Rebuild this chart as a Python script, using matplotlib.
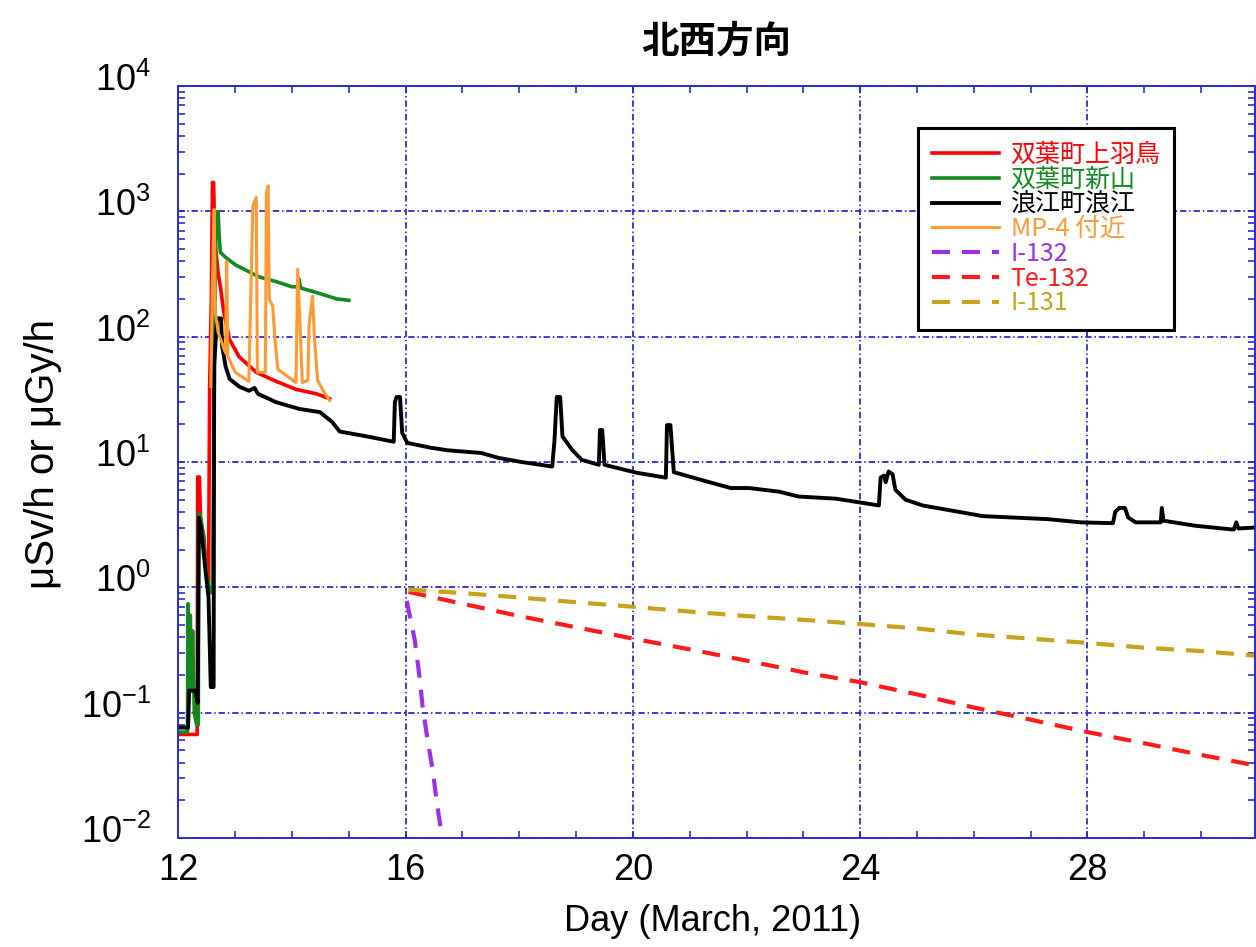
import numpy as np
import matplotlib.pyplot as plt
from matplotlib.ticker import MultipleLocator, FixedLocator, LogLocator, NullFormatter
from matplotlib.transforms import ScaledTranslation

plt.rcParams['font.family'] = ['Liberation Sans', 'DejaVu Sans']
plt.rcParams['mathtext.fontset'] = 'custom'
plt.rcParams['mathtext.rm'] = 'Liberation Sans'
plt.rcParams['mathtext.it'] = 'Liberation Sans:italic'

# measured dose rates (day of March 2011, uSv/h)
red_day = [12.0, 12.33, 12.34, 12.37, 12.39, 12.45, 12.5, 12.53, 12.55, 12.58, 12.6, 12.62,
           12.64, 12.7, 12.74, 12.8, 12.9, 13.07, 13.37, 13.72, 14.07, 14.43, 14.66]
red_val = [0.067, 0.067, 7.6, 7.6, 3.5, 2.5, 1.2, 0.9, 40, 200, 1700, 1700,
           600, 320, 250, 155, 95, 69, 52, 44, 38, 35, 32]

green_day = [12.0, 12.16, 12.17, 12.19, 12.21, 12.23, 12.25, 12.28, 12.32, 12.35, 12.36, 12.4,
             12.45, 12.5, 12.56, 12.6, 12.66, 12.7, 12.72, 12.74, 12.83, 13.0, 13.24, 13.42,
             13.72, 14.0, 14.1, 14.12, 14.15, 14.43, 14.79, 15.0]
green_val = [0.07, 0.07, 0.74, 0.3, 0.6, 0.15, 0.45, 0.1, 0.08, 0.08, 3.9, 3.5,
             2.2, 1.2, 0.9, 1.0, 990, 990, 600, 470, 430, 375, 330, 300,
             275, 250, 250, 290, 245, 225, 200, 195]

black_day = [12.0, 12.17, 12.19, 12.3, 12.34, 12.36, 12.4, 12.47, 12.53, 12.57, 12.62, 12.63,
             12.68, 12.75, 12.77, 12.83, 12.9, 13.07, 13.24, 13.34, 13.4, 13.72, 14.13, 14.49,
             14.7, 14.84, 15.32, 15.79, 15.81, 15.84, 15.9, 15.94, 16.03, 16.44, 16.74, 17.33,
             17.63, 18.04, 18.58, 18.62, 18.66, 18.72, 18.76, 18.93, 19.1, 19.4, 19.42, 19.46,
             19.5, 20.07, 20.58, 20.6, 20.66, 20.72, 21.2, 21.72, 22.04, 22.57, 22.92, 23.57,
             24.33, 24.36, 24.42, 24.45, 24.5, 24.57, 24.62, 24.8, 25.1, 26.16, 27.3, 27.88,
             28.45, 28.49, 28.56, 28.66, 28.72, 28.85, 29.29, 29.31, 29.34, 29.9, 30.53, 30.58,
             30.62, 30.66, 30.95]
black_val = [0.076, 0.076, 0.15, 0.15, 0.12, 3.6, 3.0, 1.45, 0.83, 0.16, 0.16, 60,
             140, 140, 84, 58, 46, 40, 37, 39, 35, 30, 26.5, 25,
             21, 17.5, 16, 14.5, 30, 33, 33, 17, 14.2, 13, 12.4, 11.8,
             10.8, 10, 9.2, 15, 33, 33, 16, 12.5, 10.4, 9.5, 18, 18,
             9.5, 8.2, 7.5, 19.7, 19.7, 8.3, 7.2, 6.2, 6.2, 5.8, 5.3, 5.1,
             4.5, 7.5, 7.8, 6.9, 8.4, 8.0, 6.0, 5.0, 4.5, 3.7, 3.5, 3.3,
             3.25, 4.0, 4.3, 4.3, 3.6, 3.3, 3.3, 4.3, 3.4, 3.1, 2.9, 2.9,
             3.3, 2.95, 3.0]

orange_day = [12.57, 12.6, 12.63, 12.65, 12.7, 12.83, 12.85, 12.87, 13.0, 13.24, 13.31, 13.37,
              13.39, 13.53, 13.55, 13.58, 13.6, 13.66, 13.7, 13.75, 14.07, 14.1, 14.14, 14.18,
              14.28, 14.3, 14.36, 14.4, 14.45, 14.55, 14.66]
orange_val = [40, 300, 1040, 155, 108, 74, 400, 70, 52, 44, 1100, 1290,
              52, 52, 1400, 1600, 200, 175, 95, 55, 43, 345, 130, 43,
              45, 125, 210, 90, 45, 37, 31]

# nuclide contributions
i132_day = [16.02, 16.16, 16.24, 16.3, 16.39, 16.48, 16.55, 16.64, 16.67]
i132_val = [0.78, 0.38, 0.2, 0.11, 0.059, 0.034, 0.019, 0.0102, 0.008]

te132_day = [16.05, 17, 18, 19, 20, 21, 22, 23, 24, 25, 26, 27, 28, 29, 30, 30.95]
te132_val = [0.92, 0.74, 0.59, 0.48, 0.39, 0.32, 0.26, 0.21, 0.175, 0.14, 0.11, 0.088,
             0.07, 0.057, 0.046, 0.038]

i131_day = [16.05, 17, 18, 19, 20, 21, 22, 23, 24, 25, 26, 27, 28, 29, 30, 30.95]
i131_val = [0.96, 0.90, 0.83, 0.76, 0.70, 0.64, 0.59, 0.55, 0.51, 0.47, 0.42, 0.39,
            0.36, 0.33, 0.31, 0.285]

y_decades = [1e-2, 1e-1, 1e0, 1e1, 1e2, 1e3, 1e4]

axis_blue = '#2a2ad8'
cjk = ['Noto Sans CJK JP', 'DejaVu Sans']

fig = plt.figure(figsize=(12.56, 9.47), dpi=100)
ax = fig.add_axes([178.4 / 1256, 1 - 838 / 947, (1255 - 178.4) / 1256, (838 - 86) / 947])

dash = (0, (4.3, 2.9))
series = [
    (red_day, red_val, '#ff0000', '-', 2.6, '双葉町上羽鳥'),
    (green_day, green_val, '#128a20', '-', 2.6, '双葉町新山'),
    (black_day, black_val, '#000000', '-', 2.8, '浪江町浪江'),
    (orange_day, orange_val, '#ff9933', '-', 2.2, 'MP-4 付近'),
    (i132_day, i132_val, '#9b30e8', dash, 3.0, 'I-132'),
    (te132_day, te132_val, '#ff1a1a', dash, 3.0, 'Te-132'),
    (i131_day, i131_val, '#c8a21a', dash, 3.0, 'I-131'),
]
for d, v, c, ls, lw, lab in series:
    ax.plot(d, v, color=c, linestyle=ls, linewidth=lw, label=lab)

ax.set_yscale('log')
ax.set_xlim(12, 30.95)
ax.set_ylim(1e-2, 1e4)
ax.xaxis.set_major_locator(MultipleLocator(4))
ax.xaxis.set_minor_locator(MultipleLocator(1))
ax.yaxis.set_major_locator(FixedLocator(y_decades))
ax.yaxis.set_minor_locator(LogLocator(base=10, subs=np.arange(2, 10), numticks=20))
ax.yaxis.set_minor_formatter(NullFormatter())

ax.grid(True, which='major', color=axis_blue, linestyle=(0, (3.5, 1.6, 0.8, 1.6)), linewidth=1.3)
for s in ax.spines.values():
    s.set_color(axis_blue)
    s.set_linewidth(1.4)
ax.tick_params(which='both', direction='in', top=True, right=True, color=axis_blue,
               width=1.2, length=5, labelsize=26)
ax.tick_params(axis='x', pad=11)
ax.tick_params(axis='y', pad=20)

# lift the power-of-ten labels so the base sits on the grid line
lift = ScaledTranslation(0, 0.09, fig.dpi_scale_trans)
for lbl in ax.get_yticklabels():
    lbl.set_transform(lbl.get_transform() + lift)

ax.set_title('北西方向', fontsize=27, fontweight='bold', pad=24, family=cjk)
ax.set_xlabel('Day (March, 2011)', fontsize=26)
ax.xaxis.set_label_coords(0.496, -0.0878)
ax.set_ylabel('μSv/h or μGy/h', fontsize=29)
ax.yaxis.set_label_coords(-0.108, 0.51)

leg = ax.legend(loc='upper left', bbox_to_anchor=(0.687, 0.944), borderaxespad=0,
                fancybox=False, framealpha=1, edgecolor='black', labelspacing=-0.05,
                handlelength=2.7, handletextpad=0.45, borderpad=0.55,
                prop={'family': cjk, 'size': 18})
leg.get_frame().set_linewidth(2.2)
for txt, (_, _, c, _, _, _) in zip(leg.get_texts(), series):
    txt.set_color(c)

fig.savefig('out.png', dpi=100)
